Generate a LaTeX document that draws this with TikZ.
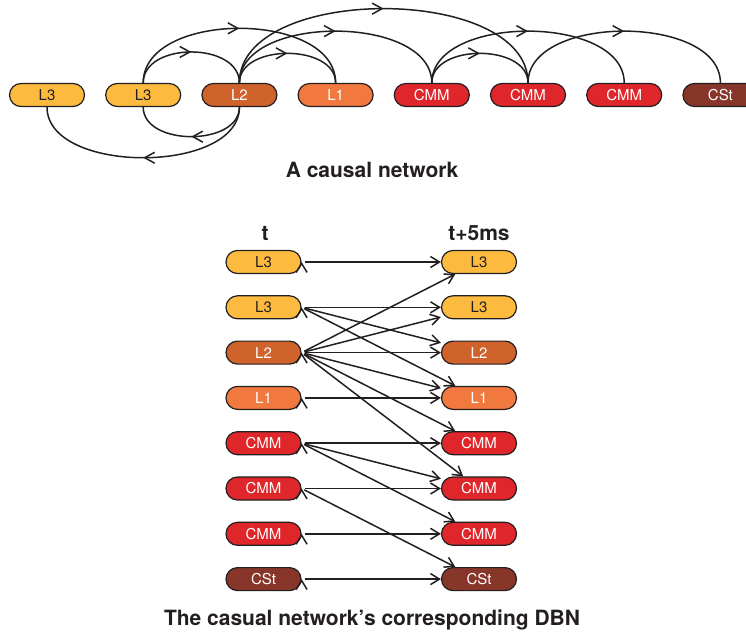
\documentclass[tikz,border=0pt]{standalone}
\usepackage{fontspec}
\setmainfont{TeX Gyre Heros}
\usetikzlibrary{arrows.meta, positioning, decorations.markings}

\definecolor{lthree}{RGB}{252,187,62}
\definecolor{ltwo}{RGB}{208,98,44}
\definecolor{lone}{RGB}{241,120,62}
\definecolor{cmmred}{RGB}{223,39,43}
\definecolor{cstbrown}{RGB}{136,53,42}
\definecolor{ink}{RGB}{35,31,32}

\begin{document}
\begin{tikzpicture}[x=1pt, y=-1pt, node distance={96.2pt},
    unit/.style = {draw=ink, line width=1.2pt, rectangle, rounded corners=11.5pt,
        minimum width=75pt, minimum height=23pt, inner sep=0pt,
        font=\fontsize{15}{17}\selectfont},
    lthreebox/.style = {unit, fill=lthree, text=ink},
    ltwobox/.style = {unit, fill=ltwo, text=white},
    lonebox/.style = {unit, fill=lone, text=white},
    cmmbox/.style = {unit, fill=cmmred, text=white},
    cstbox/.style = {unit, fill=cstbrown, text=white},
    title/.style = {font=\fontsize{21}{24}\selectfont\bfseries, text=ink},
    midarrow/.style = {postaction=decorate, decoration={markings,
        mark=at position 0.5 with {\arrow{Straight Barb[length=10pt,width=11pt,line width=1.5pt]}}}},
    arc/.style = {draw=ink, line width=1.5pt},
    dbn/.style = {draw=ink, line width=1.5pt, -{Straight Barb[length=9pt,width=11pt]}, shorten <=3pt}]
    \useasboundingbox (0,0) rectangle (746,634);

    % causal network
    \node[lthreebox] (tLa) at (47,95) {L3};
    \node[lthreebox] (tLb) [right of=tLa] {L3};
    \node[ltwobox] (tLw) [right of=tLb] {L2};
    \node[lonebox] (tLo) [right of=tLw] {L1};
    \node[cmmbox] (tCa) [right of=tLo] {CMM};
    \node[cmmbox] (tCb) [right of=tCa] {CMM};
    \node[cmmbox] (tCc) [right of=tCb] {CMM};
    \node[cstbox] (tCs) [right of=tCc] {CSt};

    \path[arc] (tLb.north) edge[midarrow, out=90, in=90, looseness=1.1] (tLw.north);
    \path[arc] (tLb.north) edge[midarrow, out=90, in=90, looseness=0.97] (tLo.north);
    \path[arc] (tLw.north) edge[midarrow, out=90, in=90, looseness=1.05] (tLo.north);
    \path[arc] (tLw.north) edge[midarrow, out=90, in=90, looseness=0.92] (tCa.north);
    \path[arc] (tLw.north) edge[midarrow, out=90, in=90, looseness=0.88] (tCb.north);
    \path[arc] (tCa.north) edge[midarrow, out=90, in=90, looseness=1.05] (tCb.north);
    \path[arc] (tCa.north) edge[midarrow, out=90, in=90, looseness=0.92] (tCc.north);
    \path[arc] (tCb.north) edge[midarrow, out=90, in=90, looseness=0.92] (tCs.north);
    \path[arc] (tLw.south) edge[midarrow, out=-90, in=-90, looseness=1.05] (tLb.south);
    \path[arc] (tLw.south) edge[midarrow, out=-90, in=-90, looseness=0.9] (tLa.south);

    \node[title] (capA) at (372,170) {A causal network};

    % DBN
    \node[title] (tnow) at (265,233) {t};
    \node[title] (tnext) at (479,233) {t+5ms};

    \node[lthreebox] (pLa) at (263.5,262) {L3};
    \node[lthreebox] (pLb) at (263.5,307.3) {L3};
    \node[ltwobox] (pLw) at (263.5,352.6) {L2};
    \node[lonebox] (pLo) at (263.5,397.9) {L1};
    \node[cmmbox] (pCa) at (263.5,443.2) {CMM};
    \node[cmmbox] (pCb) at (263.5,488.5) {CMM};
    \node[cmmbox] (pCc) at (263.5,533.8) {CMM};
    \node[cstbox] (pCs) at (263.5,579.1) {CSt};

    \node[lthreebox] (nLa) at (479,262) {L3};
    \node[lthreebox] (nLb) at (479,307.3) {L3};
    \node[ltwobox] (nLw) at (479,352.6) {L2};
    \node[lonebox] (nLo) at (479,397.9) {L1};
    \node[cmmbox] (nCa) at (479,443.2) {CMM};
    \node[cmmbox] (nCb) at (479,488.5) {CMM};
    \node[cmmbox] (nCc) at (479,533.8) {CMM};
    \node[cstbox] (nCs) at (479,579.1) {CSt};

    \path[dbn] (pLa.east) edge (nLa);
    \path[dbn] (pLb.east) edge (nLb) edge (nLw) edge (nLo);
    \path[dbn] (pLw.east) edge (nLa) edge (nLb) edge (nLw) edge (nLo) edge (nCa) edge (nCb);
    \path[dbn] (pLo.east) edge (nLo);
    \path[dbn] (pCa.east) edge (nCa) edge (nCb) edge (nCc);
    \path[dbn] (pCb.east) edge (nCb) edge (nCs);
    \path[dbn] (pCc.east) edge (nCc);
    \path[dbn] (pCs.east) edge (nCs);

    \node[title] (capB) at (372,620) {The casual network’s corresponding DBN};
\end{tikzpicture}
\end{document}
